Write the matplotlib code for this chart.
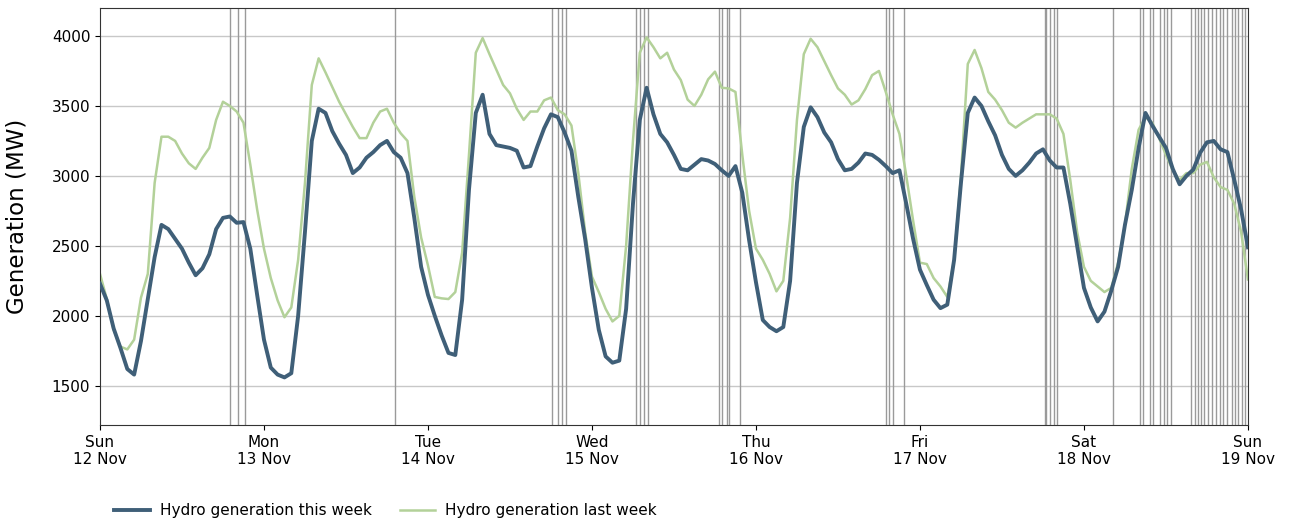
import numpy as np
import pandas as pd
import matplotlib
matplotlib.use("Agg")
import matplotlib.pyplot as plt
import matplotlib.dates as mdates

# Generación hidro, valores horarios (MW) desde dom 12 nov 00:00
esta_semana = [
    2230, 2110, 1910, 1770, 1620, 1580, 1820, 2120, 2420, 2650, 2620, 2550,
    2480, 2380, 2290, 2340, 2440, 2620, 2700, 2710, 2665, 2670, 2480, 2150,
    1830, 1630, 1580, 1560, 1590, 2000, 2600, 3250, 3480, 3450, 3320, 3230,
    3150, 3020, 3060, 3130, 3170, 3220, 3250, 3170, 3130, 3020, 2700, 2350,
    2150, 2000, 1860, 1735, 1720, 2115, 2900, 3450, 3580, 3300, 3220, 3210,
    3200, 3180, 3060, 3070, 3210, 3340, 3440, 3420, 3310, 3180, 2850, 2550,
    2200, 1900, 1710, 1665, 1680, 2050, 2800, 3400, 3630, 3440, 3300, 3240,
    3150, 3050, 3040, 3080, 3120, 3110, 3085, 3040, 3000, 3070, 2880, 2540,
    2240, 1970, 1920, 1890, 1920, 2250, 2950, 3350, 3490, 3420, 3310, 3240,
    3120, 3040, 3050, 3095, 3160, 3150, 3115, 3070, 3020, 3040, 2800, 2550,
    2330, 2220, 2115, 2055, 2080, 2400, 2950, 3450, 3560, 3500, 3390, 3290,
    3150, 3050, 3000, 3040, 3095, 3160, 3190, 3110, 3060, 3060, 2800, 2500,
    2200, 2060, 1960, 2030, 2180, 2350, 2650, 2900, 3200, 3450, 3360, 3280,
    3200, 3050, 2940, 3000, 3045, 3165, 3240, 3250, 3190, 3170, 2970, 2760,
    2490,
]
semana_pasada = [
    2300, 2120, 1900, 1780, 1760, 1830, 2130, 2300, 2950, 3280, 3280, 3250,
    3160, 3090, 3050, 3130, 3200, 3400, 3530, 3500, 3460, 3380, 3080, 2760,
    2480, 2270, 2110, 1990, 2060, 2400, 2950, 3650, 3840, 3740, 3635, 3530,
    3440, 3350, 3270, 3270, 3380, 3460, 3480, 3380, 3305, 3250, 2850, 2560,
    2360, 2135, 2125, 2120, 2170, 2450, 3150, 3880, 3985, 3870, 3760, 3650,
    3590, 3480, 3400, 3460, 3460, 3540, 3560, 3470, 3440, 3360, 3020, 2600,
    2280, 2170, 2050, 1960, 2000, 2500, 3250, 3880, 3990, 3920, 3840, 3880,
    3760, 3685, 3545, 3500, 3580, 3690, 3745, 3630, 3625, 3600, 3150, 2750,
    2480, 2400, 2300, 2175, 2250, 2700, 3400, 3870, 3980, 3920, 3820, 3720,
    3625, 3580, 3510, 3540, 3620, 3720, 3750, 3600, 3440, 3300, 3000, 2680,
    2380, 2370, 2270, 2210, 2135, 2400, 3000, 3800, 3900, 3770, 3600, 3545,
    3470, 3380, 3345, 3380, 3410, 3440, 3440, 3440, 3410, 3300, 2970, 2600,
    2350, 2250, 2210, 2170, 2200, 2380, 2650, 3050, 3330, 3420, 3380, 3270,
    3150, 3040, 2970, 3020, 3020, 3080, 3100, 2990, 2920, 2900, 2800, 2600,
    2260,
]

# Marcas verticales (horas desde el inicio)
marcas_h = [
    19.1, 20.2, 21.2, 43.2,
    66.1, 67.1, 67.6, 68.2,
    78.5, 79.0, 79.6, 80.2,
    90.6, 91.1, 91.7, 92.1, 93.7,
    115.0, 115.5, 116.1, 117.7,
    138.3, 138.5, 139.1, 139.6, 140.0,
    148.2,
    152.2, 152.7, 153.6, 154.1, 155.2, 155.7, 156.1, 156.7,
    159.7, 160.3, 160.7, 161.2, 161.6, 162.1, 162.7, 163.3, 163.9,
    164.4, 165.0, 165.6, 166.1, 166.6, 167.2, 167.6,
]

inicio = pd.Timestamp("2023-11-12 00:00")
t = pd.date_range(inicio, periods=len(esta_semana), freq="h")

fig = plt.figure(figsize=(12.9, 5.25), dpi=100)
ax = fig.add_axes([0.0775, 0.1905, 0.8899, 0.7943])

ax.grid(True, axis="y", color="#c8c8c8", linewidth=1)
ax.set_axisbelow(True)
for h in marcas_h:
    ax.axvline(inicio + pd.Timedelta(hours=h), color="#9a9a9a", linewidth=1, zorder=1)

ax.plot(t, esta_semana, color="#3f5f78", linewidth=2.8, label="Hydro generation this week", zorder=3)
ax.plot(t, semana_pasada, color="#b3d199", linewidth=1.8, label="Hydro generation last week", zorder=2)

ax.set_xlim(t[0], t[-1])
ax.set_ylim(1220, 4200)
ax.set_yticks([1500, 2000, 2500, 3000, 3500, 4000])
ax.xaxis.set_major_locator(mdates.DayLocator())
ax.xaxis.set_major_formatter(mdates.DateFormatter("%a\n%d %b"))
ax.tick_params(labelsize=11)
for s in ax.spines.values():
    s.set_color("#333333")

ax.set_ylabel("Generation (MW)", fontsize=16.5, labelpad=17)

fig.legend(loc="center left", bbox_to_anchor=(0.078, 0.027), ncol=2,
           frameon=False, fontsize=11, handlelength=2.35, handletextpad=0.65,
           columnspacing=1.8)

fig.savefig("out.png", dpi=100)
